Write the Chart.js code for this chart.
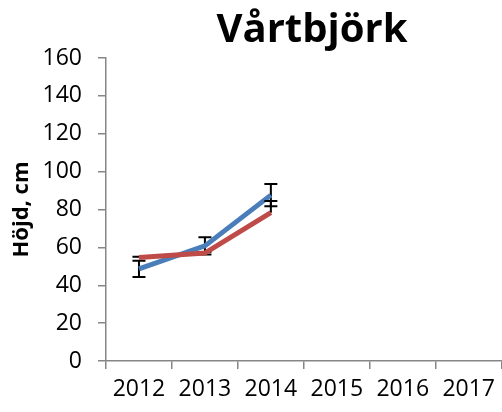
<!DOCTYPE html>
<html>
<head>
<meta charset="utf-8">
<script src="https://cdn.jsdelivr.net/npm/chart.js@4"></script>
<style>
  body { margin: 0; background: #fff; }
</style>
</head>
<body>
<canvas id="chart" width="502" height="412"></canvas>
<script>
var years = ['2012', '2013', '2014', '2015', '2016', '2017']
var blueValues = [48.7, 60.8, 87.6, null, null, null]
var blueErrors = [4.3, 4.6, 5.9, null, null, null]
var redValues = [54.6, 57, 78.3, null, null, null]
var redErrorsPlus = [0.5, 0.5, 6.2, null, null, null]
var titleText = 'Vårtbjörk'
var yTitle = 'Höjd, cm'

var axisColor = '#868686'
var font = 'Open Sans'

var titlePlugin = {
    id: 'excelTitle',
    afterDraw(chart) {
        var ctx = chart.ctx
        ctx.save()
        ctx.font = 'bold 40px "' + font + '"'
        ctx.fillStyle = '#000'
        ctx.textAlign = 'center'
        ctx.textBaseline = 'alphabetic'
        ctx.fillText(titleText, 312, 42)
        ctx.restore()
    }
}

// error bars go under their own series line, like excel does
var errorBars = {
    id: 'errorBars',
    beforeDatasetDraw(chart, args) {
        var sets = [
            { values: blueValues, up: blueErrors, down: blueErrors },
            { values: redValues, up: redErrorsPlus, down: null }
        ]
        var s = sets[args.index]
        if (!s) return
        var ctx = chart.ctx
        var y = chart.scales.y
        ctx.save()
        ctx.strokeStyle = '#000'
        ctx.lineWidth = 2
        args.meta.data.forEach(function(pt, i) {
            var v = s.values[i]
            if (v == null || s.up[i] == null) return
            var top = y.getPixelForValue(v + s.up[i])
            var bottom = y.getPixelForValue(s.down ? v - s.down[i] : v)
            ctx.beginPath()
            ctx.moveTo(pt.x, top)
            ctx.lineTo(pt.x, bottom)
            ctx.moveTo(pt.x - 6.5, top)
            ctx.lineTo(pt.x + 6.5, top)
            if (s.down) {
                ctx.moveTo(pt.x - 6.5, bottom)
                ctx.lineTo(pt.x + 6.5, bottom)
            }
            ctx.stroke()
        })
        ctx.restore()
    }
}

new Chart(document.getElementById('chart'), {
    type: 'line',
    data: {
        labels: years,
        datasets: [
            {
                label: 'blue',
                data: blueValues,
                borderColor: '#4A7EBB',
                borderWidth: 5,
                pointRadius: 0,
                tension: 0,
                order: 1
            },
            {
                label: 'red',
                data: redValues,
                borderColor: '#BE4B48',
                borderWidth: 5,
                pointRadius: 0,
                tension: 0,
                order: 0
            }
        ]
    },
    options: {
        responsive: false,
        animation: false,
        layout: { padding: { top: 58, right: 0, left: 0, bottom: 0 } },
        plugins: {
            legend: { display: false },
            title: { display: false },
            tooltip: { enabled: false }
        },
        scales: {
            x: {
                offset: true,
                grid: {
                    offset: true,
                    drawOnChartArea: false,
                    tickLength: 8,
                    color: axisColor,
                    lineWidth: 1.5
                },
                border: { color: axisColor, width: 1.5 },
                ticks: {
                    color: '#000',
                    font: { family: font, size: 23 },
                    padding: 7,
                    maxRotation: 0,
                    autoSkip: false
                },
                afterFit(scale) { scale.height = 51 }
            },
            y: {
                min: 0,
                max: 160,
                ticks: {
                    stepSize: 20,
                    color: '#000',
                    font: { family: font, size: 23 },
                    padding: 16
                },
                grid: {
                    drawOnChartArea: false,
                    tickLength: 8,
                    color: axisColor,
                    lineWidth: 1.5
                },
                border: { color: axisColor, width: 1.5 },
                title: {
                    display: true,
                    text: yTitle,
                    color: '#000',
                    font: { family: font, size: 22, weight: 'bold' },
                    padding: { top: 9, bottom: 0 }
                },
                afterFit(scale) { scale.width = 106 }
            }
        }
    },
    plugins: [titlePlugin, errorBars]
})
</script>
</body>
</html>
